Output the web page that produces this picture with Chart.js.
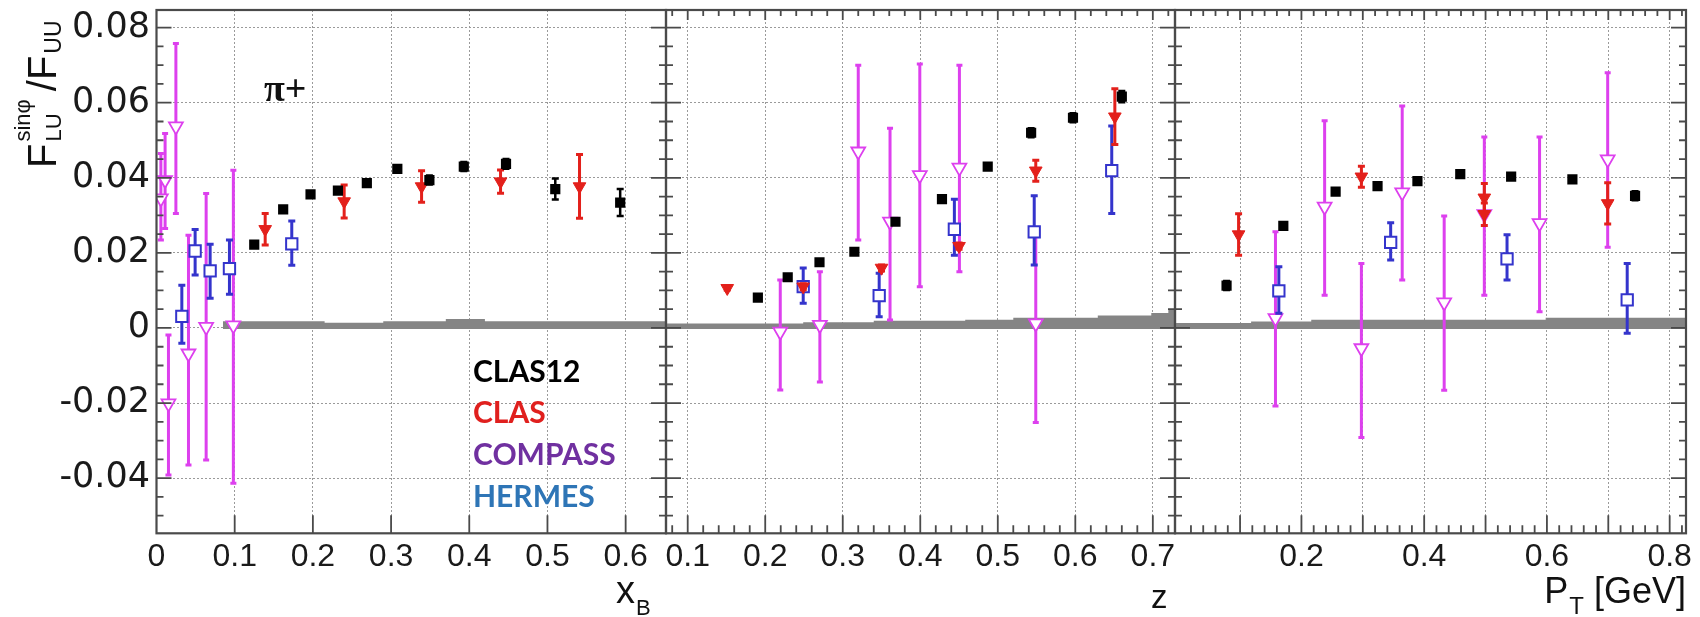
<!DOCTYPE html>
<html><head><meta charset="utf-8">
<script src="https://cdn.jsdelivr.net/npm/chart.js@4/dist/chart.umd.min.js"></script>
<style>
html,body{margin:0;padding:0;background:#fff;}
#wrap{position:relative;width:1700px;height:617px;overflow:hidden;background:#fff;}
canvas{position:absolute;left:0;top:0;}
</style></head><body>
<div id="wrap">
<canvas id="c1" width="1700" height="617"></canvas>
<canvas id="c2" width="1700" height="617"></canvas>
<canvas id="c3" width="1700" height="617"></canvas>
</div>
<script>
// ---------------- tick labels ----------------
const yTickValues = [-0.04, -0.02, 0, 0.02, 0.04, 0.06, 0.08];
const yTickLabels = ['-0.04', '-0.02', '0', '0.02', '0.04', '0.06', '0.08'];
const xbTickValues = [0, 0.1, 0.2, 0.3, 0.4, 0.5, 0.6];
const xbTickLabels = ['0', '0.1', '0.2', '0.3', '0.4', '0.5', '0.6'];
const zTickValues = [0.1, 0.2, 0.3, 0.4, 0.5, 0.6, 0.7];
const zTickLabels = ['0.1', '0.2', '0.3', '0.4', '0.5', '0.6', '0.7'];
const ptTickValues = [0.1, 0.2, 0.3, 0.4, 0.5, 0.6, 0.7, 0.8];
const ptTickLabels = ['', '0.2', '', '0.4', '', '0.6', '', '0.8'];
const legendNames = ['CLAS12', 'CLAS', 'COMPASS', 'HERMES'];

// ---------------- panel 1 : x_B ----------------
const clas12XbX = [0.125, 0.162, 0.197, 0.232, 0.269, 0.308, 0.349, 0.393, 0.447, 0.510, 0.593];
const clas12XbY = [0.0222, 0.0316, 0.0356, 0.0366, 0.0386, 0.0424, 0.0394, 0.0430, 0.0437, 0.0370, 0.0334];
const clas12XbE = [0.0006, 0.0006, 0.0006, 0.0006, 0.0006, 0.0007, 0.0012, 0.0012, 0.0013, 0.0028, 0.0036];
const clasXbX = [0.139, 0.240, 0.339, 0.440, 0.541];
const clasXbY = [0.0263, 0.0337, 0.0377, 0.0390, 0.0377];
const clasXbE = [0.0042, 0.0044, 0.0042, 0.0031, 0.0085];
const compassXbX = [0.0056, 0.011, 0.0153, 0.0248, 0.0409, 0.0635, 0.0983];
const compassXbY = [0.0345, 0.0394, -0.0201, 0.0537, -0.0068, 0.0003, 0.0007];
const compassXbLo = [0.0234, 0.0265, -0.0392, 0.0305, -0.0365, -0.0352, -0.0414];
const compassXbHi = [0.0465, 0.0518, -0.0019, 0.0758, 0.0247, 0.0358, 0.0420];
const hermesXbX = [0.0324, 0.0494, 0.0686, 0.0933, 0.173];
const hermesXbY = [0.0031, 0.0205, 0.0152, 0.0158, 0.0224];
const hermesXbLo = [-0.0041, 0.0141, 0.0079, 0.0090, 0.0167];
const hermesXbHi = [0.0114, 0.0262, 0.0223, 0.0234, 0.0285];
const bandXbEdges = [0.085, 0.215, 0.29, 0.37, 0.42, 0.6516];
const bandXbH = [0.0018, 0.0014, 0.0018, 0.0024, 0.0018];

// ---------------- panel 2 : z ----------------
const clas12ZX = [0.1905, 0.229, 0.270, 0.315, 0.368, 0.428, 0.487, 0.543, 0.597, 0.660];
const clas12ZY = [0.0081, 0.0135, 0.0175, 0.0203, 0.0283, 0.0343, 0.0430, 0.0520, 0.0560, 0.0616];
const clas12ZE = [0.0005, 0.0005, 0.0005, 0.0005, 0.0005, 0.0005, 0.0005, 0.0012, 0.0012, 0.0015];
const clasZX = [0.151, 0.249, 0.350, 0.450, 0.549, 0.651];
const clasZY = [0.0106, 0.0110, 0.0160, 0.0218, 0.0419, 0.0563];
const clasZE = [0.0005, 0.0008, 0.0008, 0.0008, 0.0028, 0.0074];
const compassZX = [0.2194, 0.2705, 0.320, 0.361, 0.3994, 0.4505, 0.549];
const compassZY = [-0.0010, 0.0008, 0.0470, 0.0283, 0.0407, 0.0427, 0.0012];
const compassZLo = [-0.0165, -0.0144, 0.0234, 0.0021, 0.0110, 0.0150, -0.0252];
const compassZHi = [0.0128, 0.0150, 0.0700, 0.0532, 0.0703, 0.0700, 0.0252];
const hermesZX = [0.249, 0.347, 0.444, 0.547, 0.647];
const hermesZY = [0.0110, 0.0086, 0.0263, 0.0256, 0.0419];
const hermesZLo = [0.0066, 0.0030, 0.0194, 0.0168, 0.0305];
const hermesZHi = [0.0160, 0.0146, 0.0343, 0.0352, 0.0538];
const bandZEdges = [0.072, 0.249, 0.340, 0.458, 0.520, 0.629, 0.698, 0.720, 0.7286];
const bandZH = [0.0012, 0.0015, 0.0019, 0.0022, 0.0027, 0.0033, 0.0040, 0.0050];

// ---------------- panel 3 : P_T ----------------
const clas12PtX = [0.078, 0.1705, 0.2557, 0.324, 0.389, 0.4588, 0.5417, 0.6415, 0.7436];
const clas12PtY = [0.0113, 0.0272, 0.0363, 0.0378, 0.0391, 0.0410, 0.0403, 0.0396, 0.0352];
const clas12PtE = [0.0012, 0.0005, 0.0005, 0.0005, 0.0005, 0.0005, 0.0005, 0.0005, 0.0012];
const clasPtX = [0.0976, 0.2977, 0.498, 0.498, 0.699];
const clasPtY = [0.0249, 0.0403, 0.0347, 0.0303, 0.0332];
const clasPtE = [0.0055, 0.0028, 0.0038, 0.0030, 0.0055];
const compassPtX = [0.1577, 0.2378, 0.2977, 0.3642, 0.4326, 0.498, 0.588, 0.699];
const compassPtY = [0.0026, 0.0323, -0.0054, 0.0361, 0.0068, 0.0303, 0.0279, 0.0449];
const compassPtLo = [-0.0208, 0.0087, -0.0292, 0.0128, -0.0166, 0.0087, 0.0043, 0.0215];
const compassPtHi = [0.0256, 0.0552, 0.0172, 0.0591, 0.0298, 0.0509, 0.0509, 0.0680];
const hermesPtX = [0.1632, 0.3454, 0.535, 0.7308];
const hermesPtY = [0.0099, 0.0228, 0.0184, 0.0075];
const hermesPtLo = [0.0039, 0.0181, 0.0128, -0.0014];
const hermesPtHi = [0.0163, 0.0280, 0.0248, 0.0172];
const bandPtEdges = [-0.006, 0.118, 0.216, 0.598, 0.8266];
const bandPtH = [0.0013, 0.0017, 0.0022, 0.0027];

// ---------------- styling / helpers ----------------
const Y_MIN = -0.0547, Y_MAX = 0.0847;
const COL = {clas12: '#000000', clas: '#e3201b', compass: '#dd40ee', hermes: '#3434cc', band: '#858585'};
const LEG_COL = ['#000000', '#e0201e', '#7030a0', '#2e75b6'];

function pts(xs, ys) { return xs.map((x, i) => ({x: x, y: ys[i]})); }
function bandPts(edges, h) {
  const out = [];
  h.forEach((v, i) => { out.push({x: edges[i], y: v}); out.push({x: edges[i + 1], y: v}); });
  return out;
}
function makeSets(p) {
  return [
    {label: 'CLAS12', data: pts(p.c12x, p.c12y), pointStyle: 'rect', pointRadius: 7.2, pointBackgroundColor: COL.clas12, pointBorderColor: COL.clas12, pointBorderWidth: 0,
     errLo: p.c12y.map((v, i) => v - p.c12e[i]), errHi: p.c12y.map((v, i) => v + p.c12e[i]), errColor: COL.clas12, errWidth: 2.5, capW: 3.5},
    {label: 'CLAS', data: pts(p.cx, p.cy), pointStyle: 'triangle', rotation: 180, pointRadius: 7.3, pointBackgroundColor: COL.clas, pointBorderColor: COL.clas, pointBorderWidth: 1,
     errLo: p.cy.map((v, i) => v - p.ce[i]), errHi: p.cy.map((v, i) => v + p.ce[i]), errColor: COL.clas, errWidth: 3, capW: 3.5},
    {label: 'HERMES', data: pts(p.hx, p.hy), pointStyle: 'rect', pointRadius: 8, pointBackgroundColor: '#ffffff', pointBorderColor: COL.hermes, pointBorderWidth: 2,
     errLo: p.hlo, errHi: p.hhi, errColor: COL.hermes, errWidth: 3, capW: 3.5},
    {label: 'COMPASS', data: pts(p.mx, p.my), pointStyle: 'triangle', rotation: 180, pointRadius: 8, pointBackgroundColor: '#ffffff', pointBorderColor: COL.compass, pointBorderWidth: 1.8,
     errLo: p.mlo, errHi: p.mhi, errColor: COL.compass, errWidth: 3, capW: 3},
    {type: 'line', label: 'syst', data: bandPts(p.be, p.bh), borderWidth: 0, borderColor: 'rgba(0,0,0,0)', pointRadius: 0,
     backgroundColor: COL.band, fill: {value: -0.0003}, tension: 0}
  ];
}

function range(a, b, step) {
  const out = [];
  for (let v = a; v <= b + 1e-9; v += step) out.push(Math.round(v * 1000) / 1000);
  return out;
}
const yMinor = range(-0.05, 0.08, 0.005);

const panelCfg = {
  c1: {xMajor: xbTickValues.slice(1), xMinor: [], top: false, texts: drawPanel1Texts},
  c2: {xMajor: zTickValues, xMinor: range(0.08, 0.72, 0.02), top: true, texts: drawPanel2Texts},
  c3: {xMajor: ptTickValues, xMinor: range(0.02, 0.82, 0.02), top: true, texts: drawPanel3Texts}
};

function txt(ctx, s, x, y, font, color, align) {
  ctx.font = font; ctx.fillStyle = color || '#111'; ctx.textAlign = align || 'left'; ctx.textBaseline = 'alphabetic';
  ctx.fillText(s, x, y);
  return ctx.measureText(s).width;
}

function drawPanel1Texts(ctx) {
  // y axis title, rotated
  ctx.save();
  ctx.translate(56, 168);
  ctx.rotate(-Math.PI / 2);
  let u = 0;
  u += txt(ctx, 'F', 0, 0, '40px "Liberation Sans"');
  const sup = txt(ctx, 'sinφ', u + 2, -26, '22px "Liberation Sans"');
  const sub = txt(ctx, 'LU', u + 2, 5, '22px "Liberation Sans"');
  u += Math.max(sup, sub) + 10;
  u += txt(ctx, '/F', u, 0, '40px "Liberation Sans"');
  txt(ctx, 'UU', u + 2, 5, '23px "Liberation Sans"');
  ctx.restore();
  // pi+ label
  txt(ctx, 'π+', 264, 101, 'bold 38px "Liberation Serif"', '#111');
  // legend
  const ys = [382, 423, 465, 507];
  legendNames.forEach((n, i) => txt(ctx, n, 473, ys[i], 'bold 30px Lato', LEG_COL[i]));
  // x title
  const w = txt(ctx, 'x', 616, 603, '38px "Liberation Sans"');
  txt(ctx, 'B', 616 + w + 1, 615, '22px "Liberation Sans"');
}
function drawPanel2Texts(ctx) {
  txt(ctx, 'z', 1151, 608, '33px "Liberation Sans"');
}
function drawPanel3Texts(ctx) {
  ctx.font = '36px "Liberation Sans"';
  const wP = ctx.measureText('P').width, wG = ctx.measureText(' [GeV]').width;
  ctx.font = '24px "Liberation Sans"';
  const wT = ctx.measureText('T').width;
  let x = 1686 - (wP + wT + 1 + wG);
  txt(ctx, 'P', x, 603, '36px "Liberation Sans"'); x += wP + 1;
  txt(ctx, 'T', x, 614, '24px "Liberation Sans"'); x += wT;
  txt(ctx, ' [GeV]', x, 603, '36px "Liberation Sans"');
}

const deco = {
  id: 'deco',
  beforeDatasetDraw(chart, args) {
    const ds = chart.data.datasets[args.index];
    if (!ds.errLo) return;
    const ctx = chart.ctx, xs = chart.scales.x, ys = chart.scales.y;
    ctx.save();
    ctx.strokeStyle = ds.errColor; ctx.lineWidth = ds.errWidth;
    ds.data.forEach((p, i) => {
      const px = xs.getPixelForValue(p.x);
      const p1 = ys.getPixelForValue(ds.errLo[i]), p2 = ys.getPixelForValue(ds.errHi[i]);
      ctx.beginPath();
      ctx.moveTo(px, p1); ctx.lineTo(px, p2);
      ctx.moveTo(px - ds.capW, p1); ctx.lineTo(px + ds.capW, p1);
      ctx.moveTo(px - ds.capW, p2); ctx.lineTo(px + ds.capW, p2);
      ctx.stroke();
    });
    ctx.restore();
  },
  afterDatasetsDraw(chart) {
    const cfg = panelCfg[chart.canvas.id];
    const ctx = chart.ctx, a = chart.chartArea, xs = chart.scales.x, ys = chart.scales.y;
    ctx.save();
    ctx.strokeStyle = '#4a4a4a'; ctx.lineWidth = 1.8;
    ctx.beginPath();
    yMinor.forEach(v => {
      const py = ys.getPixelForValue(v);
      if (py < a.top + 1 || py > a.bottom - 1) return;
      const major = yTickValues.some(t => Math.abs(t - v) < 1e-6);
      const L = major ? 15 : 7;
      ctx.moveTo(a.left, py); ctx.lineTo(a.left + L, py);
      ctx.moveTo(a.right, py); ctx.lineTo(a.right - L, py);
    });
    cfg.xMajor.forEach(v => {
      const px = xs.getPixelForValue(v);
      ctx.moveTo(px, a.bottom); ctx.lineTo(px, a.bottom - 18);
      if (cfg.top) { ctx.moveTo(px, a.top); ctx.lineTo(px, a.top + 10); }
    });
    cfg.xMinor.forEach(v => {
      if (cfg.xMajor.some(t => Math.abs(t - v) < 1e-6)) return;
      const px = xs.getPixelForValue(v);
      if (px < a.left + 1 || px > a.right - 1) return;
      ctx.moveTo(px, a.bottom); ctx.lineTo(px, a.bottom - 8);
      if (cfg.top) { ctx.moveTo(px, a.top); ctx.lineTo(px, a.top + 6); }
    });
    ctx.stroke();
    ctx.lineWidth = 2.2;
    ctx.strokeRect(a.left, a.top, a.right - a.left, a.bottom - a.top);
    ctx.restore();
  },
  afterDraw(chart) {
    const cfg = panelCfg[chart.canvas.id];
    const ctx = chart.ctx;
    ctx.save();
    cfg.texts(ctx);
    ctx.restore();
  }
};

function makeChart(id, p) {
  return new Chart(document.getElementById(id), {
    type: 'scatter',
    data: {datasets: makeSets(p)},
    options: {
      responsive: false, animation: false, devicePixelRatio: 1,
      layout: {padding: {left: p.padL, right: 1700 - p.right, top: 9.5, bottom: 0}},
      plugins: {legend: {display: false}, tooltip: {enabled: false}},
      scales: {
        x: {
          type: 'linear', min: p.xmin, max: p.xmax,
          afterBuildTicks: s => { s.ticks = p.xTicks.map(v => ({value: v})); },
          afterFit: s => { s.height = 617 - 533.3; s.paddingLeft = 0; s.paddingRight = 0; },
          ticks: {autoSkip: false, maxRotation: 0, minRotation: 0, padding: 5, color: '#1a1a1a',
                  font: {family: 'Liberation Sans', size: 32}, callback: (v, i) => p.xLabels[i]},
          grid: {color: '#9a9a9a', lineWidth: 1, drawTicks: false},
          border: {display: false, dash: [2, 2]}
        },
        y: {
          type: 'linear', min: Y_MIN, max: Y_MAX,
          afterBuildTicks: s => { s.ticks = yTickValues.map(v => ({value: v})); },
          afterFit: s => { s.width = p.yWidth; s.paddingTop = 0; s.paddingBottom = 0; },
          ticks: {display: p.yLabels, padding: 6.5, color: '#1a1a1a',
                  font: {family: 'DejaVu Sans', size: 35}, callback: (v, i) => yTickLabels[i]},
          grid: {color: '#9a9a9a', lineWidth: 1, drawTicks: false},
          border: {display: false, dash: [2, 2]}
        }
      }
    },
    plugins: [deco]
  });
}

makeChart('c1', {c12x: clas12XbX, c12y: clas12XbY, c12e: clas12XbE, cx: clasXbX, cy: clasXbY, ce: clasXbE,
  mx: compassXbX, my: compassXbY, mlo: compassXbLo, mhi: compassXbHi,
  hx: hermesXbX, hy: hermesXbY, hlo: hermesXbLo, hhi: hermesXbHi, be: bandXbEdges, bh: bandXbH,
  padL: 0, yWidth: 156.5, right: 666, xmin: 0, xmax: 0.6516, xTicks: xbTickValues, xLabels: xbTickLabels, yLabels: true});
makeChart('c2', {c12x: clas12ZX, c12y: clas12ZY, c12e: clas12ZE, cx: clasZX, cy: clasZY, ce: clasZE,
  mx: compassZX, my: compassZY, mlo: compassZLo, mhi: compassZHi,
  hx: hermesZX, hy: hermesZY, hlo: hermesZLo, hhi: hermesZHi, be: bandZEdges, bh: bandZH,
  padL: 666, yWidth: 0, right: 1175, xmin: 0.072, xmax: 0.7286, xTicks: zTickValues, xLabels: zTickLabels, yLabels: false});
makeChart('c3', {c12x: clas12PtX, c12y: clas12PtY, c12e: clas12PtE, cx: clasPtX, cy: clasPtY, ce: clasPtE,
  mx: compassPtX, my: compassPtY, mlo: compassPtLo, mhi: compassPtHi,
  hx: hermesPtX, hy: hermesPtY, hlo: hermesPtLo, hhi: hermesPtHi, be: bandPtEdges, bh: bandPtH,
  padL: 1175, yWidth: 0, right: 1686, xmin: -0.006, xmax: 0.8266, xTicks: ptTickValues, xLabels: ptTickLabels, yLabels: false});
</script>
</body></html>
